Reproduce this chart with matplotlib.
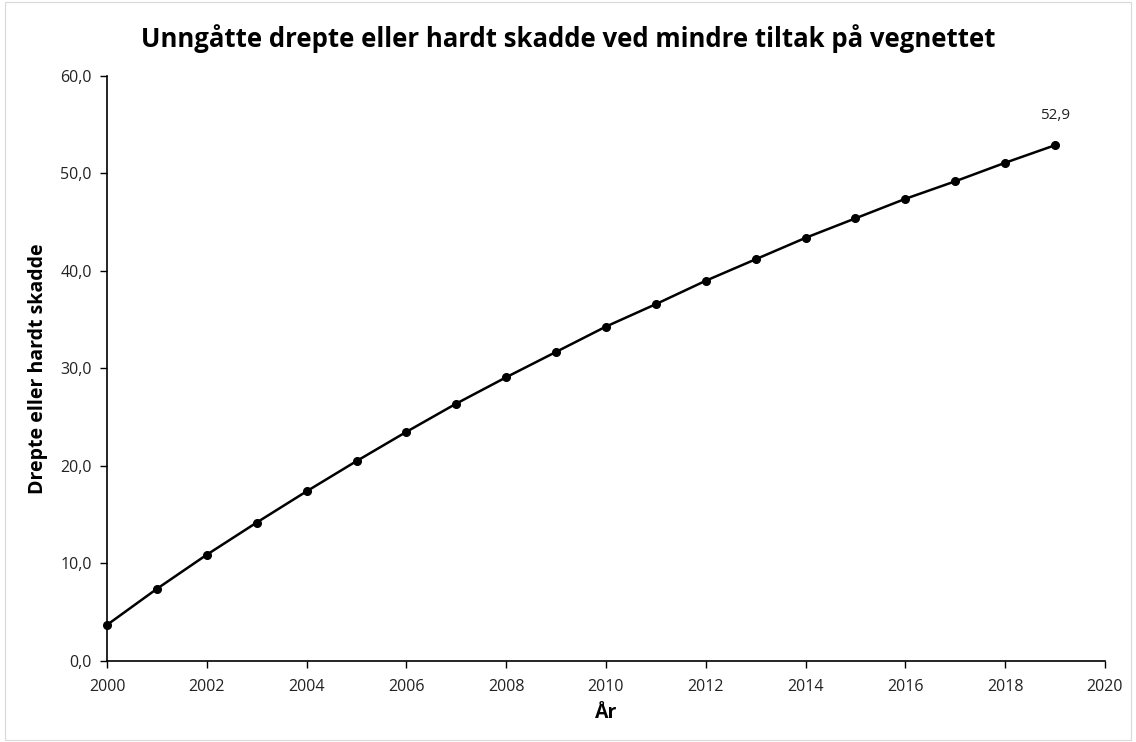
import matplotlib.pyplot as plt
from matplotlib.ticker import FuncFormatter, MultipleLocator


years = [2000, 2001, 2002, 2003, 2004, 2005, 2006, 2007, 2008, 2009,
         2010, 2011, 2012, 2013, 2014, 2015, 2016, 2017, 2018, 2019]
avoided = [3.7, 7.4, 10.9, 14.2, 17.4, 20.5, 23.5, 26.4, 29.1, 31.7,
           34.3, 36.6, 39.0, 41.2, 43.4, 45.4, 47.4, 49.2, 51.1, 52.9]
last_label = '52,9'

title = 'Unngåtte drepte eller hardt skadde ved mindre tiltak på vegnettet'
x_label = 'År'
y_label = 'Drepte eller hardt skadde'

plt.rcParams['font.family'] = ['Open Sans', 'DejaVu Sans']

fig = plt.figure(figsize=(11.36, 7.42), dpi=100)
ax = fig.add_axes([0.0942, 0.1092, 0.8785, 0.7884])

ax.plot(years, avoided, color='black', linewidth=1.8, marker='o',
        markersize=5.5, zorder=3, clip_on=False)
ax.annotate(last_label, (years[-1], avoided[-1]), xytext=(0, 16),
            textcoords='offset points', ha='center', va='bottom',
            fontsize=11, color='#222222')

ax.set_xlim(2000, 2020)
ax.set_ylim(0, 60)
ax.xaxis.set_major_locator(MultipleLocator(2))
ax.yaxis.set_major_locator(MultipleLocator(10))
ax.yaxis.set_major_formatter(FuncFormatter(lambda v, _p: f'{v:.1f}'.replace('.', ',')))

for side in ('top', 'right'):
    ax.spines[side].set_visible(False)
for side in ('left', 'bottom'):
    ax.spines[side].set_linewidth(1.2)
ax.tick_params(direction='out', length=5, width=1, labelsize=11.5,
               labelcolor='#222222')
ax.tick_params(axis='x', pad=8)
ax.tick_params(axis='y', pad=6)

ax.set_xlabel(x_label, fontsize=14, fontweight='bold', labelpad=6)
ax.set_ylabel(y_label, fontsize=14, fontweight='bold', labelpad=9)
fig.text(0.5, 0.948, title, ha='center', va='center', fontsize=18.5,
         fontweight='bold', family=['Open Sans', 'DejaVu Sans'])

border = plt.Rectangle((0.004, 0.003), 0.992, 0.994, transform=fig.transFigure,
                       fill=False, edgecolor='#d9d9d9', linewidth=0.8)
fig.patches.append(border)

fig.savefig('out.png', dpi=100)
